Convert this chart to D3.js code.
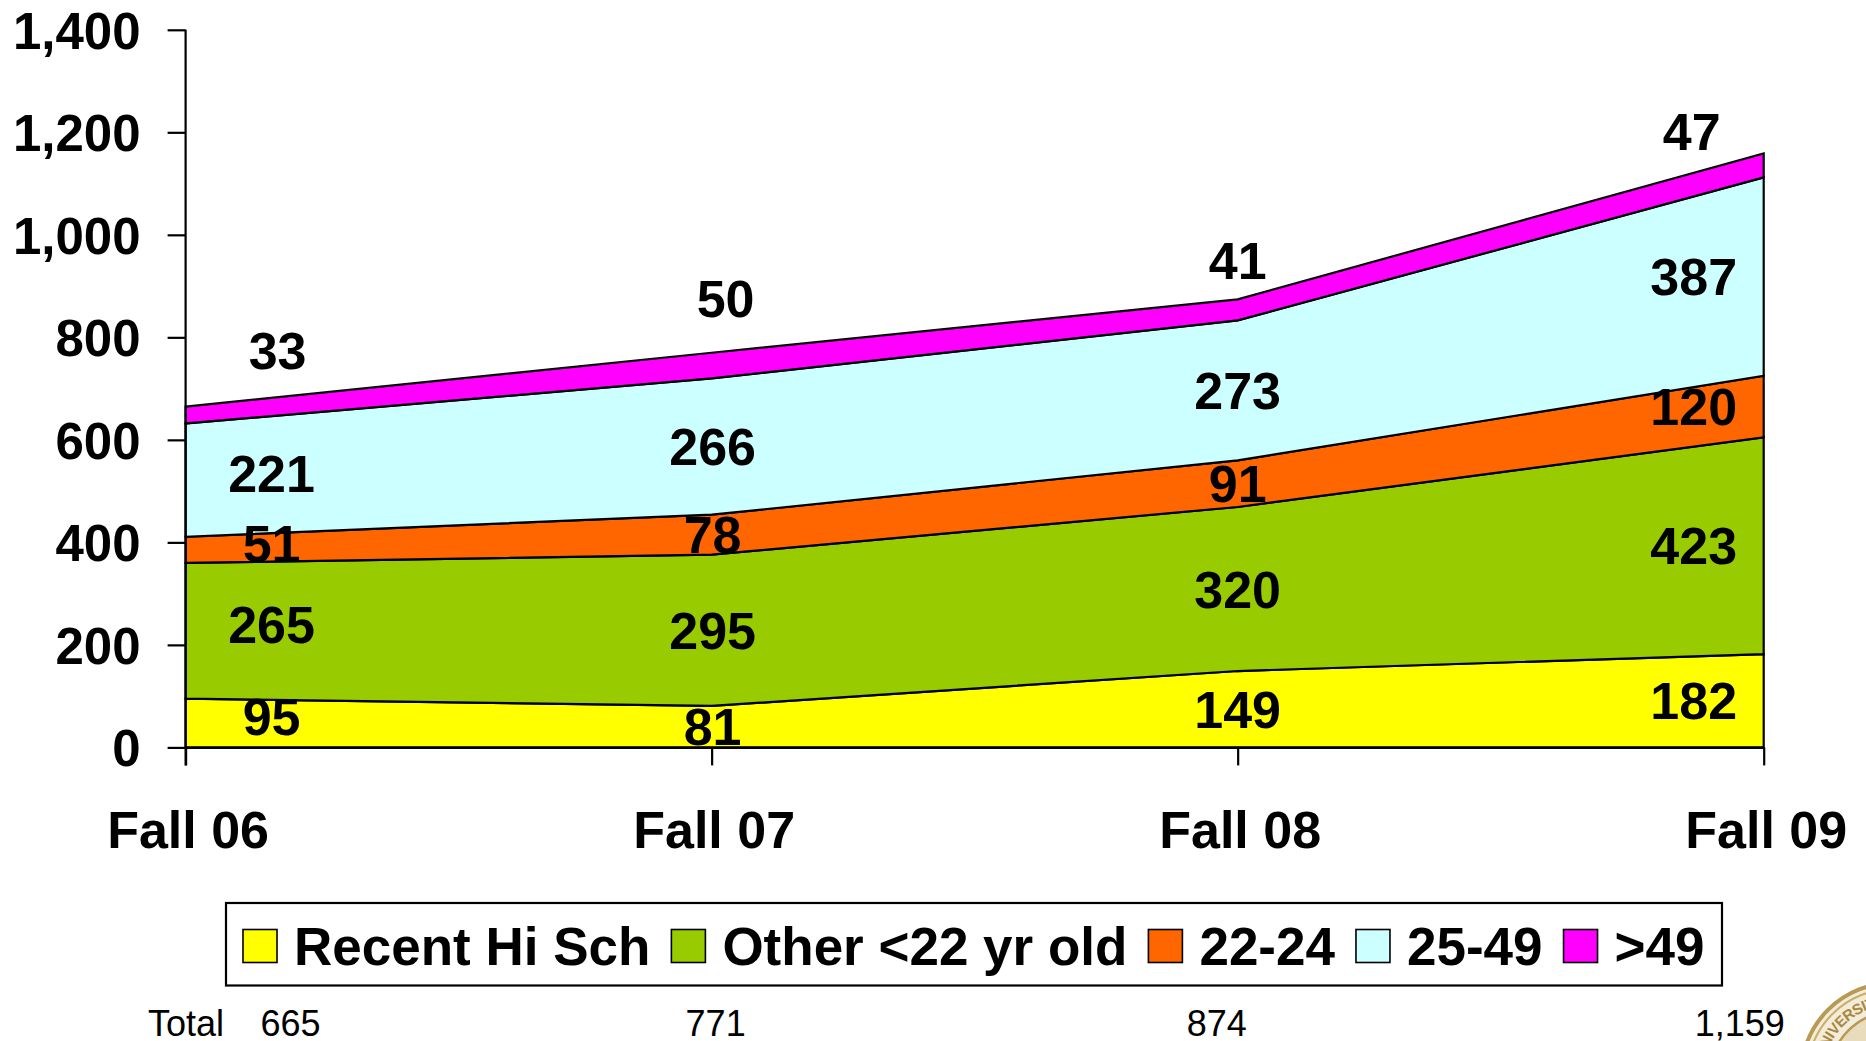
<!DOCTYPE html>
<html>
<head>
<meta charset="utf-8">
<script src="https://cdn.jsdelivr.net/npm/d3@7"></script>
<style>
  body { margin: 0; background: #fff; }
  svg text { font-family: "Liberation Sans", Arial, Helvetica, sans-serif; }
</style>
</head>
<body>
<svg id="chart" width="1866" height="1041"></svg>
<script>
// ---------- data ----------
var terms = ["Fall 06", "Fall 07", "Fall 08", "Fall 09"];
var groups = ["Recent Hi Sch", "Other <22 yr old", "22-24", "25-49", ">49"];
var recentHiSch = [95, 81, 149, 182];
var otherUnder22 = [265, 295, 320, 423];
var age22to24 = [51, 78, 91, 120];
var age25to49 = [221, 266, 273, 387];
var over49 = [33, 50, 41, 47];
var totals = ["665", "771", "874", "1,159"];
var yTicks = [0, 200, 400, 600, 800, 1000, 1200, 1400];

var colors = ["#ffff00", "#99cc00", "#ff6600", "#ccffff", "#ff00ff"];

// ---------- layout ----------
var cfg = {
    left: 185.6, right: 1763.7,   // first / last category
    top: 29.8, bottom: 747.4,      // y(1400) / y(0)
    tick: 18,
    bigFont: 52, tickFont: 51, legendFont: 53, totalFont: 36
};
var labelDx = [86, 1, 0, -70];            // excel pushes edge labels inward
var labelDy = [-7, 0, 0, 0];
var topLabelNudge = [[92, -65], [14, -67], [0, -50], [-72, -34]]; // ">49" labels sit above the band
var totalDx = [105, 4, -21, -24];

var series = [recentHiSch, otherUnder22, age22to24, age25to49, over49];
var table = terms.map(function(t, i) {
    var row = {term: t};
    groups.forEach(function(g, k) { row[g] = series[k][i]; });
    return row;
});

var svg = d3.select("#chart");

var x = d3.scalePoint().domain(terms).range([cfg.left, cfg.right]);
var y = d3.scaleLinear().domain([0, 1400]).range([cfg.bottom, cfg.top]);

var stacked = d3.stack().keys(groups)(table);

// ---------- areas ----------
var area = d3.area()
    .x(function(d) { return x(d.data.term); })
    .y0(function(d) { return y(d[0]); })
    .y1(function(d) { return y(d[1]); });

svg.append("g").selectAll("path")
    .data(stacked)
    .enter().append("path")
    .attr("d", area)
    .attr("fill", function(d, i) { return colors[i]; })
    .attr("stroke", "#000")
    .attr("stroke-width", 2.2)
    .attr("stroke-linejoin", "miter");

// ---------- y axis ----------
var yAxis = svg.append("g")
    .attr("transform", "translate(" + cfg.left + ",0)")
    .call(d3.axisLeft(y).tickValues(yTicks).tickSize(cfg.tick).tickPadding(27)
        .tickFormat(d3.format(",")));
yAxis.select(".domain").remove();
yAxis.selectAll("line").attr("stroke", "#000").attr("stroke-width", 2.2);
yAxis.selectAll("text")
    .attr("dy", "0.36em")
    .attr("fill", "#000")
    .style("font-size", cfg.tickFont + "px")
    .style("font-weight", "bold");

svg.append("line")
    .attr("x1", cfg.left).attr("x2", cfg.left)
    .attr("y1", y(1400)).attr("y2", y(0) + cfg.tick)
    .attr("stroke", "#000").attr("stroke-width", 2.2);

// ---------- x axis ----------
var xAxis = svg.append("g")
    .attr("transform", "translate(0," + y(0) + ")")
    .call(d3.axisBottom(x).tickSize(cfg.tick).tickSizeOuter(0));
xAxis.select(".domain").attr("stroke", "#000").attr("stroke-width", 2.2);
xAxis.selectAll("line").attr("stroke", "#000").attr("stroke-width", 2.2);
xAxis.selectAll("text")
    .attr("y", 100.5)
    .attr("dy", null)
    .attr("dx", 2)
    .attr("fill", "#000")
    .style("font-size", cfg.bigFont + "px")
    .style("font-weight", "bold");

// ---------- data labels ----------
var labels = svg.append("g");
stacked.forEach(function(layer, k) {
    labels.selectAll(".lab" + k)
        .data(layer)
        .enter().append("text")
        .attr("class", "lab" + k)
        .attr("x", function(d, i) {
            var dx = k === 4 ? topLabelNudge[i][0] : labelDx[i];
            return x(d.data.term) + dx;
        })
        .attr("y", function(d, i) {
            var dy = k === 4 ? topLabelNudge[i][1] : labelDy[i];
            return y((d[0] + d[1]) / 2) + dy;
        })
        .attr("dy", "0.36em")
        .attr("text-anchor", "middle")
        .style("font-size", cfg.bigFont + "px")
        .style("font-weight", "bold")
        .text(function(d) { return d[1] - d[0]; });
});

// ---------- legend ----------
var legend = svg.append("g");
legend.append("rect")
    .attr("x", 226).attr("y", 903)
    .attr("width", 1496).attr("height", 82.5)
    .attr("fill", "#fff").attr("stroke", "#000").attr("stroke-width", 2.2);

var lx = 243;
groups.forEach(function(g, i) {
    legend.append("rect")
        .attr("x", lx).attr("y", 929.5)
        .attr("width", 34).attr("height", 33)
        .attr("fill", colors[i]).attr("stroke", "#000").attr("stroke-width", 1.6);
    var t = legend.append("text")
        .attr("x", lx + 51).attr("y", 946)
        .attr("dy", "0.36em")
        .style("font-size", cfg.legendFont + "px")
        .style("font-weight", "bold")
        .text(g);
    lx += 51 + t.node().getComputedTextLength() + 21;
});

// ---------- totals row ----------
svg.append("text")
    .attr("x", 148).attr("y", 1036)
    .style("font-size", cfg.totalFont + "px")
    .text("Total");
svg.append("g").selectAll("text")
    .data(totals)
    .enter().append("text")
    .attr("x", function(d, i) { return x(terms[i]) + totalDx[i]; })
    .attr("y", 1036)
    .attr("text-anchor", "middle")
    .style("font-size", cfg.totalFont + "px")
    .text(function(d) { return d; });

// ---------- university seal peeking in the corner ----------
var seal = svg.append("g").attr("transform", "translate(1893,1075)");
seal.append("circle").attr("r", 92).attr("fill", "#f3ecd9").attr("stroke", "#b89a55").attr("stroke-width", 4);
seal.append("circle").attr("r", 86).attr("fill", "none").attr("stroke", "#c9ae6c").attr("stroke-width", 2);
seal.append("circle").attr("r", 63).attr("fill", "#e8dcbc").attr("stroke", "#b89a55").attr("stroke-width", 2.5);
seal.append("path").attr("id", "sealArc")
    .attr("d", "M -75,0 A 75,75 0 0 1 75,0")
    .attr("fill", "none");
seal.append("text")
    .style("font-size", "15px").style("font-weight", "bold").attr("fill", "#a8883f")
    .attr("dy", "0.35em")
    .append("textPath").attr("href", "#sealArc").attr("startOffset", "8%")
    .text("UNIVERSITY");
</script>
</body>
</html>
